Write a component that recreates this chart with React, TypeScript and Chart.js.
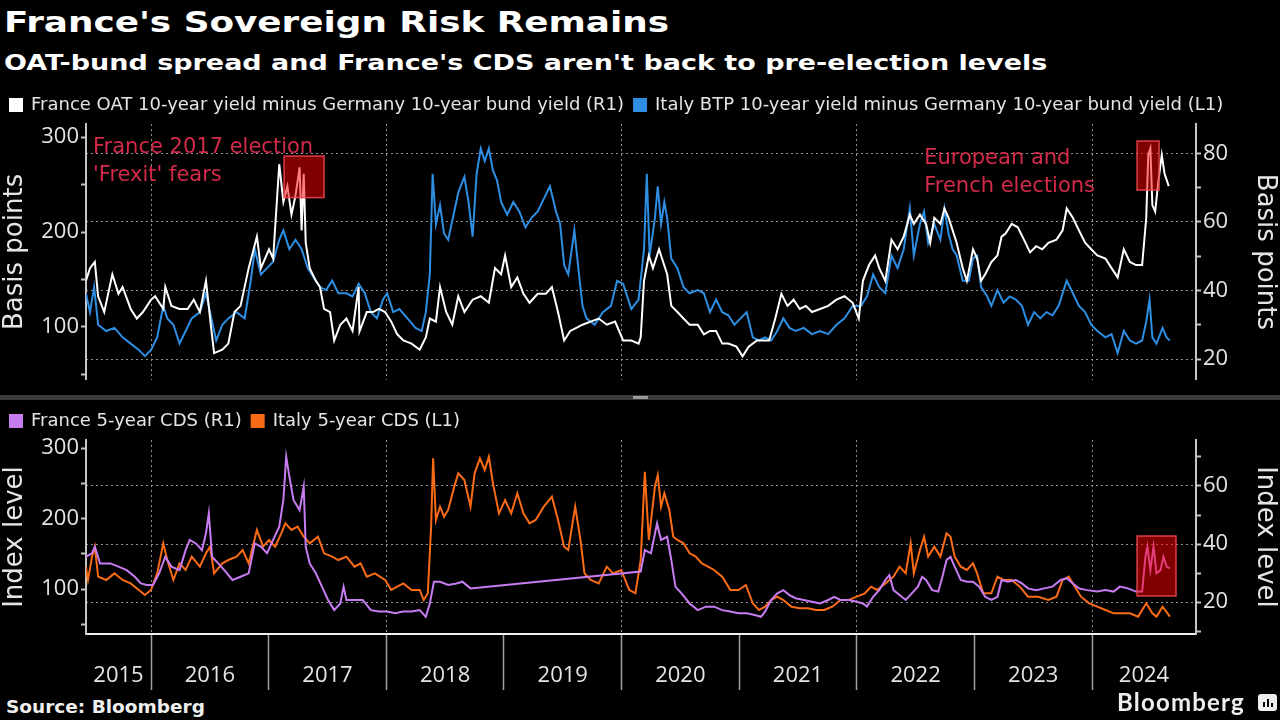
import React, { useEffect, useRef } from 'react';
import { Chart, registerables } from 'chart.js';

Chart.register(...registerables);

// ---------- data (decimal years, values) ----------
const X_MIN = 2015.447;
const X_MAX = 2024.884;

const frOatDates = [2015.446,2015.481,2015.522,2015.55,2015.602,2015.671,2015.723,2015.758,2015.827,2015.879,2015.931,2016.0,2016.035,2016.104,2016.121,2016.173,2016.242,2016.311,2016.363,2016.415,2016.467,2016.502,2016.536,2016.606,2016.657,2016.709,2016.761,2016.83,2016.9,2016.934,2017.003,2017.038,2017.09,2017.125,2017.159,2017.194,2017.228,2017.263,2017.28,2017.298,2017.315,2017.349,2017.401,2017.436,2017.471,2017.522,2017.557,2017.609,2017.661,2017.713,2017.765,2017.772,2017.834,2017.886,2017.938,2017.99,2018.042,2018.093,2018.145,2018.215,2018.284,2018.336,2018.37,2018.422,2018.457,2018.509,2018.561,2018.612,2018.664,2018.734,2018.803,2018.872,2018.924,2018.976,2019.01,2019.062,2019.114,2019.166,2019.218,2019.287,2019.356,2019.408,2019.46,2019.512,2019.564,2019.616,2019.668,2019.737,2019.806,2019.875,2019.945,2020.014,2020.083,2020.145,2020.163,2020.191,2020.232,2020.267,2020.319,2020.354,2020.388,2020.423,2020.475,2020.527,2020.579,2020.648,2020.7,2020.752,2020.804,2020.856,2020.908,2020.977,2021.029,2021.081,2021.151,2021.203,2021.255,2021.307,2021.359,2021.411,2021.463,2021.515,2021.567,2021.619,2021.688,2021.757,2021.827,2021.896,2021.965,2022.017,2022.052,2022.104,2022.156,2022.191,2022.243,2022.295,2022.347,2022.399,2022.451,2022.485,2022.537,2022.589,2022.624,2022.659,2022.711,2022.745,2022.78,2022.815,2022.849,2022.901,2022.936,2022.988,2023.023,2023.057,2023.092,2023.144,2023.196,2023.231,2023.265,2023.317,2023.369,2023.421,2023.473,2023.525,2023.577,2023.629,2023.698,2023.75,2023.785,2023.837,2023.889,2023.941,2023.993,2024.045,2024.114,2024.166,2024.218,2024.27,2024.322,2024.374,2024.426,2024.461,2024.478,2024.496,2024.513,2024.537,2024.565,2024.593,2024.617,2024.652];
const frOatSpread = [42.8,46.5,48.3,38.3,33.7,44.7,39.0,41.0,34.6,31.8,33.7,37.3,38.3,34.6,41.0,35.5,34.6,34.6,37.3,33.7,42.8,31.8,21.7,22.7,24.5,33.7,35.5,46.5,55.7,46.5,52.0,49.3,76.8,65.8,70.4,62.1,67.6,75.9,57.5,74.0,53.9,46.5,42.8,41.0,34.6,33.7,25.4,30.0,31.8,28.2,41.0,28.0,33.7,33.7,34.6,33.7,30.9,27.2,25.4,24.5,22.7,26.3,31.8,30.9,41.0,33.7,30.0,38.3,33.7,37.3,38.3,36.4,46.5,44.7,50.2,41.0,43.8,39.0,36.4,39.0,39.0,41.0,33.7,25.4,28.2,29.1,30.0,30.9,31.8,30.0,30.9,25.4,25.4,24.5,26.3,42.8,50.2,46.5,52.0,48.3,44.7,35.5,33.7,31.8,30.0,30.0,27.2,28.2,28.2,24.5,24.5,23.6,20.8,23.6,25.4,25.4,25.4,31.8,39.0,35.5,37.3,34.6,35.5,33.7,34.6,35.5,37.3,38.3,36.4,31.8,42.8,47.4,50.2,46.5,42.8,54.8,52.0,55.7,62.1,59.4,62.1,59.4,53.9,61.2,59.4,63.9,61.2,57.5,53.9,46.5,42.8,52.0,49.3,42.8,44.7,48.3,50.2,55.7,56.6,59.4,58.4,54.8,51.1,52.9,52.0,53.9,54.8,57.5,63.9,61.2,57.5,53.9,52.0,50.2,49.3,46.5,43.8,52.0,48.3,47.4,47.4,61.2,79.5,81.4,64.9,63.0,72.2,79.5,74.0,70.4];

const itBtpDates = [2015.446,2015.481,2015.516,2015.55,2015.619,2015.689,2015.758,2015.827,2015.896,2015.948,2016.0,2016.052,2016.104,2016.138,2016.19,2016.242,2016.294,2016.346,2016.415,2016.467,2016.502,2016.554,2016.606,2016.657,2016.727,2016.796,2016.848,2016.882,2016.934,2016.986,2017.038,2017.09,2017.125,2017.176,2017.228,2017.28,2017.332,2017.384,2017.436,2017.488,2017.54,2017.592,2017.661,2017.713,2017.765,2017.817,2017.869,2017.92,2017.972,2018.007,2018.059,2018.111,2018.18,2018.249,2018.301,2018.336,2018.37,2018.394,2018.422,2018.457,2018.491,2018.526,2018.578,2018.612,2018.664,2018.699,2018.734,2018.768,2018.803,2018.837,2018.872,2018.907,2018.941,2018.976,2019.028,2019.08,2019.131,2019.183,2019.235,2019.287,2019.339,2019.391,2019.443,2019.478,2019.512,2019.547,2019.599,2019.633,2019.668,2019.702,2019.772,2019.841,2019.91,2019.962,2020.014,2020.083,2020.145,2020.191,2020.215,2020.239,2020.284,2020.308,2020.336,2020.364,2020.388,2020.423,2020.475,2020.527,2020.579,2020.648,2020.7,2020.752,2020.804,2020.856,2020.908,2020.96,2021.012,2021.064,2021.116,2021.168,2021.22,2021.272,2021.324,2021.376,2021.428,2021.48,2021.549,2021.619,2021.688,2021.757,2021.827,2021.896,2021.965,2022.035,2022.087,2022.139,2022.191,2022.243,2022.295,2022.347,2022.399,2022.451,2022.485,2022.537,2022.572,2022.607,2022.659,2022.711,2022.745,2022.78,2022.815,2022.849,2022.901,2022.953,2022.988,2023.023,2023.057,2023.109,2023.144,2023.196,2023.248,2023.3,2023.352,2023.404,2023.456,2023.508,2023.56,2023.612,2023.664,2023.716,2023.785,2023.837,2023.889,2023.941,2023.993,2024.045,2024.114,2024.166,2024.218,2024.27,2024.322,2024.374,2024.426,2024.461,2024.489,2024.513,2024.548,2024.6,2024.634,2024.662];
const itBtpSpread = [135.5,115.6,142.0,102.3,95.7,99.0,89.0,82.4,75.8,69.2,75.8,89.0,122.2,109.0,102.3,82.4,95.7,109.0,115.6,135.5,115.6,85.7,102.3,109.0,115.6,109.0,148.8,181.9,155.4,162.0,168.7,191.9,201.8,181.9,191.9,181.9,162.0,152.0,142.0,138.8,148.8,135.5,135.5,132.2,145.4,135.5,115.6,109.0,128.9,135.5,115.6,118.9,109.0,99.0,95.7,115.6,155.4,261.5,208.5,228.4,198.5,191.9,221.7,241.6,258.2,231.7,195.2,261.5,288.1,274.8,288.0,264.8,254.9,231.7,218.4,231.7,221.7,205.1,215.1,221.7,235.0,248.3,221.7,208.5,165.3,155.4,201.8,162.0,122.2,109.0,102.3,115.6,122.2,148.8,145.4,118.9,128.9,181.9,261.5,175.3,215.0,248.3,208.5,231.7,215.0,172.0,162.0,142.0,135.5,138.8,135.5,115.6,128.9,115.6,112.3,102.3,109.0,115.6,89.0,85.7,89.0,85.7,95.7,109.0,99.0,95.7,99.0,92.4,95.7,92.4,102.3,109.0,122.2,122.2,132.2,155.4,142.0,135.5,175.3,162.0,181.9,225.0,175.3,208.5,221.7,188.6,208.5,191.9,225.0,198.5,181.9,175.3,148.8,148.8,172.0,175.3,142.0,132.2,122.2,138.8,125.5,132.2,128.9,122.2,102.3,115.6,109.0,115.6,112.3,122.2,148.8,135.5,122.2,115.6,102.3,95.7,89.0,92.4,72.5,95.7,85.7,82.4,85.7,105.6,128.9,89.0,82.4,99.0,89.0,85.7];

const frCdsDates = [2015.446,2015.498,2015.522,2015.567,2015.654,2015.723,2015.792,2015.862,2015.913,2015.965,2016.017,2016.069,2016.121,2016.173,2016.242,2016.294,2016.329,2016.381,2016.433,2016.467,2016.491,2016.519,2016.571,2016.623,2016.692,2016.761,2016.83,2016.882,2016.934,2016.986,2017.038,2017.09,2017.125,2017.149,2017.176,2017.211,2017.263,2017.298,2017.315,2017.349,2017.401,2017.453,2017.505,2017.557,2017.609,2017.637,2017.661,2017.73,2017.799,2017.869,2017.938,2018.007,2018.076,2018.145,2018.215,2018.284,2018.336,2018.37,2018.405,2018.457,2018.526,2018.595,2018.647,2018.716,2020.163,2020.198,2020.25,2020.302,2020.336,2020.388,2020.423,2020.458,2020.51,2020.579,2020.648,2020.717,2020.787,2020.856,2020.925,2020.995,2021.064,2021.133,2021.185,2021.22,2021.272,2021.324,2021.376,2021.428,2021.48,2021.549,2021.619,2021.688,2021.757,2021.809,2021.861,2021.931,2022.0,2022.052,2022.087,2022.139,2022.191,2022.243,2022.277,2022.312,2022.364,2022.416,2022.468,2022.52,2022.555,2022.589,2022.641,2022.693,2022.728,2022.763,2022.797,2022.832,2022.884,2022.936,2022.988,2023.04,2023.092,2023.144,2023.196,2023.231,2023.283,2023.352,2023.404,2023.456,2023.525,2023.594,2023.664,2023.733,2023.785,2023.837,2023.889,2023.958,2024.045,2024.114,2024.184,2024.236,2024.305,2024.374,2024.426,2024.454,2024.471,2024.496,2024.523,2024.548,2024.582,2024.607,2024.634,2024.662];
const frCdsLevel = [35.6,36.8,39.1,33.3,33.3,32.2,31.0,28.7,26.4,25.9,25.9,29.9,35.6,32.2,31.0,37.9,41.4,40.2,37.9,43.7,50.6,35.6,33.3,31.0,27.6,28.7,29.9,40.2,39.1,36.8,41.4,46.0,55.2,70.1,63.2,55.2,51.7,59.8,39.1,33.3,29.9,25.3,20.7,17.2,19.5,25.3,20.7,20.7,20.7,17.2,16.7,16.7,16.1,16.7,16.7,17.2,14.9,19.5,27.0,27.0,25.9,26.4,27.0,24.7,30.5,37.9,36.8,47.1,41.4,42.5,34.5,25.3,23.0,19.5,17.2,18.4,18.4,17.2,16.7,16.1,16.1,15.5,14.9,16.7,20.7,23.0,24.1,22.4,21.3,20.7,20.1,19.5,20.7,21.8,20.7,20.7,20.1,19.5,18.4,21.8,24.1,27.6,29.3,24.1,22.4,20.7,23.0,25.3,28.7,27.6,24.1,23.6,28.7,34.5,35.6,32.2,27.6,27.0,27.0,25.3,21.8,20.7,21.8,27.6,27.0,27.6,26.4,24.7,24.1,24.7,25.3,27.6,28.2,26.4,24.7,24.1,23.6,24.1,23.6,25.3,24.7,23.6,23.6,35.6,39.1,31.0,39.1,29.9,31.0,35.6,32.2,31.6];

const itCdsDates = [2015.446,2015.464,2015.498,2015.522,2015.55,2015.619,2015.689,2015.758,2015.827,2015.896,2015.948,2016.0,2016.052,2016.104,2016.138,2016.19,2016.242,2016.294,2016.346,2016.415,2016.467,2016.502,2016.536,2016.606,2016.657,2016.727,2016.779,2016.83,2016.9,2016.952,2017.003,2017.055,2017.107,2017.142,2017.194,2017.246,2017.298,2017.349,2017.419,2017.471,2017.54,2017.592,2017.661,2017.73,2017.782,2017.834,2017.903,2017.99,2018.042,2018.093,2018.145,2018.215,2018.284,2018.318,2018.353,2018.381,2018.398,2018.422,2018.457,2018.491,2018.526,2018.578,2018.612,2018.664,2018.716,2018.751,2018.796,2018.837,2018.872,2018.907,2018.958,2019.01,2019.062,2019.114,2019.166,2019.218,2019.27,2019.339,2019.408,2019.46,2019.512,2019.547,2019.606,2019.651,2019.685,2019.737,2019.806,2019.875,2019.927,2019.997,2020.066,2020.118,2020.163,2020.198,2020.232,2020.284,2020.308,2020.336,2020.364,2020.406,2020.44,2020.475,2020.527,2020.579,2020.631,2020.683,2020.735,2020.787,2020.856,2020.925,2020.995,2021.057,2021.116,2021.168,2021.22,2021.272,2021.324,2021.376,2021.445,2021.515,2021.584,2021.653,2021.723,2021.792,2021.861,2021.931,2022.0,2022.069,2022.121,2022.173,2022.243,2022.312,2022.364,2022.416,2022.458,2022.485,2022.537,2022.572,2022.607,2022.659,2022.711,2022.763,2022.797,2022.832,2022.884,2022.936,2022.988,2023.023,2023.075,2023.144,2023.196,2023.248,2023.317,2023.386,2023.456,2023.542,2023.629,2023.698,2023.75,2023.802,2023.854,2023.906,2023.976,2024.045,2024.114,2024.184,2024.253,2024.322,2024.392,2024.461,2024.513,2024.548,2024.6,2024.662];
const itCdsLevel = [131.7,112.8,145.9,160.0,117.5,112.8,122.2,112.8,108.0,98.6,91.5,98.6,122.2,164.8,141.1,112.8,136.4,127.0,145.9,131.7,150.6,160.0,122.2,136.4,141.1,145.9,155.3,136.4,183.7,160.0,169.5,160.0,179.0,193.1,183.7,188.4,174.2,164.8,174.2,150.6,145.9,141.1,145.9,131.7,136.4,117.5,122.2,112.8,98.6,103.3,108.0,98.6,98.6,84.4,93.9,188.4,285.3,197.9,216.8,202.6,212.1,245.2,264.1,254.6,216.8,264.1,285.3,268.8,287.7,249.9,207.3,226.2,207.3,235.7,207.3,193.1,197.9,216.8,231.0,197.9,160.0,155.3,216.8,169.5,122.2,112.8,108.0,131.7,122.2,127.0,98.6,93.9,141.1,266.4,169.5,245.2,261.7,216.8,235.7,212.1,174.2,169.5,164.8,150.6,145.9,136.4,131.7,127.0,117.5,98.6,98.6,105.7,79.7,70.2,74.9,84.4,89.1,84.4,74.9,72.6,72.6,70.2,70.2,74.9,84.4,84.4,89.1,93.9,103.3,98.6,108.0,117.5,131.7,122.2,164.8,122.2,155.3,174.2,145.9,160.0,145.9,179.0,174.2,145.9,131.7,127.0,136.4,122.2,93.9,93.9,117.5,112.8,112.8,103.3,89.1,89.1,84.4,89.1,112.8,117.5,103.3,89.1,79.7,74.9,70.2,65.5,65.5,65.5,60.8,79.7,65.5,60.8,74.9,60.8];

// ---------- styles ----------
const FONT = '"Open Sans", sans-serif';
const WIDE = '"DejaVu Sans", sans-serif';
const TXT = '#e4e4e4';
const AXIS = '#c4c4c4';
const GRID = 'rgba(170,170,170,0.85)';
const WHITE = '#ffffff';
const BLUE = '#2d8ee2';
const PURPLE = '#c77cf2';
const ORANGE = '#fa6b16';
const NOTE = '#d42a4a';

const zip = (xs: number[], ys: number[]) => xs.map((x, i) => ({ x, y: ys[i] }));

const notesPlugin = {
  id: 'notes',
  afterDatasetsDraw(chart: any, _args: any, opts: any) {
    const { ctx } = chart;
    const xs = chart.scales.x;
    ctx.save();
    for (const b of opts.boxes || []) {
      const ys = chart.scales[b.axis];
      const l = xs.getPixelForValue(b.x0);
      const r = xs.getPixelForValue(b.x1);
      const t = ys.getPixelForValue(b.y1);
      const btm = ys.getPixelForValue(b.y0);
      ctx.fillStyle = 'rgba(255,0,0,0.5)';
      ctx.fillRect(l, t, r - l, btm - t);
      ctx.strokeStyle = 'rgba(235,70,80,0.9)';
      ctx.lineWidth = 1.5;
      ctx.strokeRect(l, t, r - l, btm - t);
    }
    for (const n of opts.texts || []) {
      const ys = chart.scales[n.axis];
      const x = xs.getPixelForValue(n.x);
      const y = ys.getPixelForValue(n.y);
      ctx.fillStyle = NOTE;
      ctx.font = `21px ${WIDE}`;
      ctx.textBaseline = 'alphabetic';
      ctx.textAlign = 'left';
      n.lines.forEach((s: string, i: number) => ctx.fillText(s, x, y + i * 28));
    }
    ctx.restore();
  },
};

function yearTicks(scale: any, withLabels: boolean) {
  const ticks: { value: number }[] = [];
  for (let y = Math.ceil(scale.min); y <= Math.floor(scale.max); y++) ticks.push({ value: y });
  if (withLabels) {
    for (let y = Math.floor(scale.min); y <= Math.floor(scale.max); y++) {
      const s = Math.max(y, scale.min);
      const e = Math.min(y + 1, scale.max);
      if (e - s > 0.2) ticks.push({ value: (s + e) / 2 });
    }
    ticks.sort((a, b) => a.value - b.value);
  }
  scale.ticks = ticks;
}

const evenYearGrid = (c: any) => {
  const v = c.tick ? c.tick.value : NaN;
  return Number.isInteger(v) && v % 2 === 0 ? GRID : 'transparent';
};

function legendOpts() {
  return {
    display: true,
    position: 'top',
    align: 'start',
    labels: {
      color: TXT,
      boxWidth: 12,
      boxHeight: 12,
      padding: 10,
      font: { family: WIDE, size: 18 },
    },
  };
}

function yAxis(pos: 'left' | 'right', min: number, max: number, step: number, labelEvery: number, title: string, grid: boolean) {
  return {
    type: 'linear',
    position: pos,
    min,
    max,
    afterFit: (s: any) => {
      s.width = pos === 'left' ? 86 : 84;
    },
    border: { display: true, color: AXIS, width: 2, dash: [2, 3] },
    grid: {
      drawOnChartArea: grid,
      color: (c: any) => (grid && c.tick && c.tick.value % labelEvery === 0 ? GRID : 'transparent'),
      lineWidth: 1,
      tickLength: 5,
      tickColor: AXIS,
      tickWidth: 2,
    },
    ticks: {
      stepSize: step,
      includeBounds: false,
      autoSkip: false,
      padding: 2,
      color: TXT,
      font: { family: FONT, size: 22 },
      callback: (v: number) => (v % labelEvery === 0 ? String(v) : ''),
    },
    title: {
      display: true,
      text: title,
      color: TXT,
      font: { family: WIDE, size: 26 },
      padding: { top: 0, bottom: 0 },
    },
  };
}

function lineDs(label: string, xs: number[], ys: number[], color: string, axis: string) {
  return {
    label,
    data: zip(xs, ys),
    yAxisID: axis,
    borderColor: color,
    backgroundColor: color,
    borderWidth: 2,
    pointRadius: 0,
    tension: 0,
  };
}

function topConfig(): any {
  return {
    type: 'line',
    data: {
      datasets: [
        lineDs('France OAT 10-year yield minus Germany 10-year bund yield (R1)', frOatDates, frOatSpread, WHITE, 'yR'),
        lineDs('Italy BTP 10-year yield minus Germany 10-year bund yield (L1)', itBtpDates, itBtpSpread, BLUE, 'yL'),
      ],
    },
    options: {
      animation: false,
      responsive: false,
      events: [],
      layout: { padding: 0 },
      plugins: {
        legend: legendOpts(),
        tooltip: { enabled: false },
        notes: {
          boxes: [
            { axis: 'yR', x0: 2017.131, x1: 2017.471, y0: 67.07, y1: 79.18 },
            { axis: 'yR', x0: 2024.383, x1: 2024.57, y0: 69.27, y1: 83.58 },
          ],
          texts: [
            { axis: 'yR', x: 2015.507, y: 80.0, lines: ['France 2017 election', "'Frexit' fears"] },
            { axis: 'yR', x: 2022.573, y: 76.78, lines: ['European and', 'French elections'] },
          ],
        },
      },
      scales: {
        x: {
          type: 'linear',
          min: X_MIN,
          max: X_MAX,
          afterBuildTicks: (s: any) => yearTicks(s, false),
          afterFit: (s: any) => {
            s.height = 0;
          },
          ticks: { display: false },
          border: { display: false, dash: [2, 3] },
          grid: { drawTicks: false, color: evenYearGrid, lineWidth: 1 },
        },
        yL: yAxis('left', 44.28, 313.93, 50, 100, 'Basis points', false),
        yR: yAxis('right', 13.94, 88.53, 10, 20, 'Basis points', true),
      },
    },
    plugins: [notesPlugin],
  };
}

function bottomConfig(): any {
  return {
    type: 'line',
    data: {
      datasets: [
        lineDs('France 5-year CDS (R1)', frCdsDates, frCdsLevel, PURPLE, 'yR'),
        lineDs('Italy 5-year CDS (L1)', itCdsDates, itCdsLevel, ORANGE, 'yL'),
      ],
    },
    options: {
      animation: false,
      responsive: false,
      events: [],
      layout: { padding: 0 },
      plugins: {
        legend: legendOpts(),
        tooltip: { enabled: false },
        notes: {
          boxes: [{ axis: 'yR', x0: 2024.383, x1: 2024.714, y0: 22.07, y1: 42.76 }],
          texts: [],
        },
      },
      scales: {
        x: {
          type: 'linear',
          min: X_MIN,
          max: X_MAX,
          afterBuildTicks: (s: any) => yearTicks(s, true),
          afterFit: (s: any) => {
            s.height = 60;
          },
          border: { display: true, color: '#f0f0f0', width: 2, dash: [2, 3] },
          grid: {
            color: evenYearGrid,
            lineWidth: 1,
            tickLength: 56,
            tickWidth: 1.5,
            tickColor: (c: any) => (c.tick && Number.isInteger(c.tick.value) ? '#a0a0a0' : 'transparent'),
          },
          ticks: {
            autoSkip: false,
            maxRotation: 0,
            padding: -27,
            color: TXT,
            font: { family: FONT, size: 22 },
            callback: (v: number) => (Number.isInteger(v) ? '' : String(Math.floor(v))),
          },
        },
        yL: yAxis('left', 36.17, 311.35, 50, 100, 'Index level', false),
        yR: yAxis('right', 8.97, 75.86, 10, 20, 'Index level', true),
      },
    },
    plugins: [notesPlugin],
  };
}

function ChartCanvas({ make, top, height }: { make: () => any; top: number; height: number }) {
  const ref = useRef<HTMLCanvasElement | null>(null);
  useEffect(() => {
    if (!ref.current) return;
    const chart = new Chart(ref.current, make());
    return () => chart.destroy();
  }, [make]);
  return (
    <canvas
      ref={ref}
      width={1280}
      height={height}
      style={{ position: 'absolute', left: 0, top, width: 1280, height, display: 'block' }}
    />
  );
}

export default function App() {
  useEffect(() => {
    document.body.style.margin = '0';
    document.body.style.background = '#000';
  }, []);
  const heading = (top: number, size: number, sx: number, text: string) => (
    <div
      style={{
        position: 'absolute',
        left: 4,
        top,
        font: `bold ${size}px/${size}px ${WIDE}`,
        whiteSpace: 'nowrap',
        transform: `scaleX(${sx})`,
        transformOrigin: '0 0',
      }}
    >
      {text}
    </div>
  );
  return (
    <div
      style={{
        position: 'fixed',
        left: 0,
        top: 0,
        width: 1280,
        height: 720,
        background: '#000',
        overflow: 'hidden',
        color: '#fff',
      }}
    >
      {heading(8, 29, 1.234, "France's Sovereign Risk Remains")}
      {heading(52, 22, 1.227, "OAT-bund spread and France's CDS aren't back to pre-election levels")}
      <ChartCanvas make={topConfig} top={86} height={309} />
      <div style={{ position: 'absolute', left: 0, top: 395, width: 1280, height: 5, background: '#3a3a3a' }} />
      <div style={{ position: 'absolute', left: 633, top: 396, width: 15, height: 3, background: '#9a9a9a' }} />
      <ChartCanvas make={bottomConfig} top={402} height={292} />
      <div style={{ position: 'absolute', left: 6, top: 697, font: `bold 18.5px/19px ${WIDE}`, whiteSpace: 'nowrap', color: '#eee' }}>
        Source: Bloomberg
      </div>
      <div
        style={{
          position: 'absolute',
          left: 1117,
          top: 690,
          font: `bold 24px/24px Lato, sans-serif`,
          letterSpacing: 1.2,
          whiteSpace: 'nowrap',
          color: '#eee',
        }}
      >
        Bloomberg
      </div>
      <div
        style={{
          position: 'absolute',
          left: 1258,
          top: 694,
          width: 19,
          height: 17,
          background: '#eee',
          borderRadius: 3,
          display: 'flex',
          alignItems: 'flex-end',
          justifyContent: 'center',
          gap: 2,
          paddingBottom: 4,
          boxSizing: 'border-box',
        }}
      >
        <div style={{ width: 2, height: 5, background: '#000' }} />
        <div style={{ width: 2, height: 8, background: '#000' }} />
        <div style={{ width: 2, height: 4, background: '#000' }} />
      </div>
    </div>
  );
}
